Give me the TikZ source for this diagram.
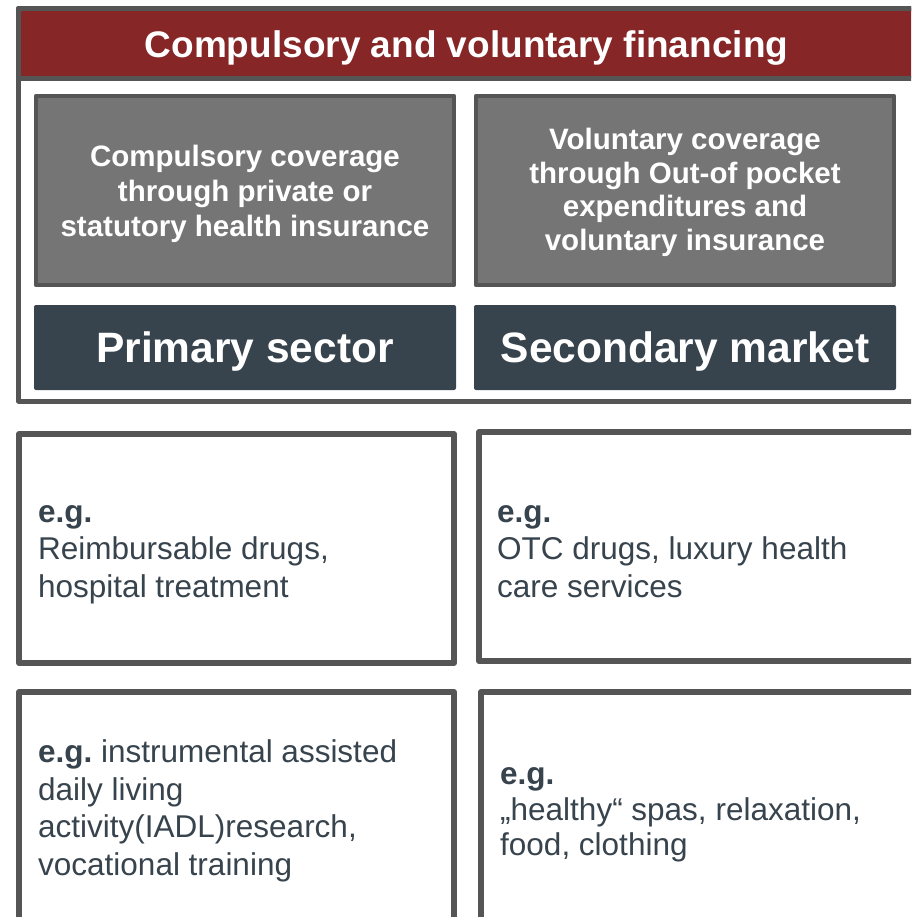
\documentclass[tikz,border=0pt]{standalone}
\usepackage{fontspec}
\setmainfont{Liberation Sans}
\frenchspacing
\definecolor{edge}{HTML}{555555}
\definecolor{wine}{HTML}{862627}
\definecolor{cover}{HTML}{757575}
\definecolor{slate}{HTML}{37434D}
\tikzset{
  frm/.style={draw=edge, line width=5pt, anchor=north west, outer sep=0pt, inner sep=0pt},
  cov/.style={frm, line width=4.5pt, fill=cover, minimum width=418, minimum height=189},
  sector/.style={anchor=north west, outer sep=0pt, fill=slate, rounded corners=2pt,
    minimum width=422, minimum height=85},
  egbox/.style={frm, line width=6pt, fill=white},
  egtext/.style={anchor=west, inner sep=0pt, text=slate, align=left,
    font=\fontsize{31.5}{37.5}\selectfont},
}
\begin{document}
\begin{tikzpicture}[x=1pt, y=-1pt, line join=round]
  \useasboundingbox (0,0) rectangle (911,917);
  \clip (0,0) rectangle (911,917);
  \fill[white] (0,0) rectangle (911,917);
  % upper frame with the financing header
  \node[frm, minimum width=896, minimum height=392.5] (frame) at (18.5,8.5) {};
  \node[frm, fill=wine, minimum width=896, minimum height=70] (head) at (18.5,8.5) {};
  \node[text=white, font=\bfseries\fontsize{37}{44}\selectfont, text depth=0pt]
    (title) at ([yshift=-1]head.center) {Compulsory and voluntary financing};
  \node[cov] (cov1) at (36,96) {};
  \node[text=white, align=center, font=\bfseries\fontsize{29.5}{35}\selectfont]
    at ([yshift=-3]cov1.center) {Compulsory coverage\\through private or\\statutory health insurance};
  \node[cov] (cov2) at (476,96) {};
  \node[text=white, align=center, font=\bfseries\fontsize{29.5}{33.5}\selectfont]
    at ([yshift=-2]cov2.center) {Voluntary coverage\\through Out-of pocket\\expenditures and\\voluntary insurance};
  \node[sector] (prim) at (34,305) {};
  \node[text=white, font=\bfseries\fontsize{42.5}{48}\selectfont, text depth=0pt]
    at (prim.center) {Primary sector};
  \node[sector] (sec) at (474,305) {};
  \node[text=white, font=\bfseries\fontsize{42.5}{48}\selectfont, text depth=0pt]
    at (sec.center) {Secondary market};
  % examples
  \node[egbox, minimum width=435, minimum height=229] (eg1) at (19,434) {};
  \node[egtext] at ([xshift=19, yshift=-6]eg1.west)
    {\textbf{e.g.}\\Reimbursable drugs,\\hospital treatment};
  \node[egbox, minimum width=461, minimum height=229] (eg2) at (479,432) {};
  \node[egtext] at ([xshift=18, yshift=-5]eg2.west)
    {\textbf{e.g.}\\OTC drugs, luxury health\\care services};
  \node[egbox, minimum width=435, minimum height=238] (eg3) at (19,692) {};
  \node[egtext] at ([xshift=19]eg3.west)
    {\textbf{e.g.} instrumental assisted\\daily living\\activity(IADL)research,\\vocational training};
  \node[egbox, minimum width=461, minimum height=238] (eg4) at (481,692) {};
  \node[egtext, font=\fontsize{31.5}{35.5}\selectfont] at ([xshift=19, yshift=-4]eg4.west)
    {\textbf{e.g.}\\„healthy“ spas, relaxation,\\food, clothing};
\end{tikzpicture}
\end{document}
